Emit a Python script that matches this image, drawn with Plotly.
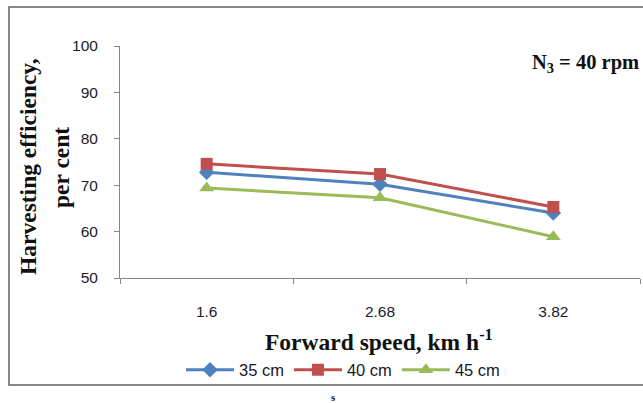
import plotly.graph_objects as go

# Forward speed categories (km/h) and harvesting efficiency (%) per cutting height
speeds = ["1.6", "2.68", "3.82"]
eff_35cm = [72.8, 70.2, 64.0]
eff_40cm = [74.6, 72.4, 65.3]
eff_45cm = [69.4, 67.3, 58.9]

series = [
    ("35 cm", eff_35cm, "#4F81BD", "diamond", 12),
    ("40 cm", eff_40cm, "#C0504D", "square", 12),
    ("45 cm", eff_45cm, "#9BBB59", "triangle-up", 13),
]

fig = go.Figure()
for name, vals, color, symbol, msize in series:
    fig.add_trace(go.Scatter(
        x=speeds, y=vals, name=name, mode="lines+markers",
        line=dict(color=color, width=3),
        marker=dict(symbol=symbol, size=msize, color=color),
    ))

# plot area spans x 120..640 px and y 46..278 px
L, R, T, B = 120, 640, 46, 278
W, H = 643, 403


def px(xp):
    return (xp - L) / (R - L)


def py(yp):
    return (B - yp) / (B - T)


tick_font = dict(family="Liberation Sans", size=15.5, color="#1a1a2a")
serif_bold = "Liberation Serif"

fig.update_layout(
    width=W, height=H,
    margin=dict(l=L, r=W - R, t=T, b=H - B),
    paper_bgcolor="white", plot_bgcolor="white",
    showlegend=True,
    legend=dict(orientation="h", x=px(343), xanchor="center", y=py(370), yanchor="middle",
                font=dict(family="Liberation Sans", size=16.5, color="#1a1a2a"),
                itemwidth=48, tracegroupgap=0, bgcolor="rgba(0,0,0,0)"),
    xaxis=dict(type="category", range=[-0.5, 2.5], showline=True, linecolor="#868686",
               linewidth=1, ticks="outside", ticklen=5, tickcolor="#868686",
               tickson="boundaries", showgrid=False, zeroline=False,
               tickfont=tick_font, ticklabelstandoff=19, fixedrange=True),
    yaxis=dict(range=[50, 100], tickvals=[50, 60, 70, 80, 90, 100], showline=True,
               linecolor="#868686", linewidth=1, ticks="outside", ticklen=5,
               tickcolor="#868686", showgrid=False, zeroline=False,
               tickfont=tick_font, ticklabelstandoff=13, fixedrange=True),
    shapes=[dict(type="rect", xref="paper", yref="paper",
                 x0=px(9), x1=px(670), y0=py(385), y1=py(7),
                 line=dict(color="#606060", width=1.5), layer="above")],
    annotations=[
        dict(text="<b>Forward speed, km h<sup>-1</sup></b>", xref="paper", yref="paper",
             x=px(379), y=py(340), showarrow=False, xanchor="center", yanchor="middle",
             font=dict(family=serif_bold, size=23.5, color="#111111")),
        dict(text="<b>Harvesting efficiency,</b>", xref="paper", yref="paper",
             x=px(28), y=py(167), showarrow=False, textangle=-90,
             xanchor="center", yanchor="middle",
             font=dict(family=serif_bold, size=23.5, color="#111111")),
        dict(text="<b>per cent</b>", xref="paper", yref="paper",
             x=px(61), y=py(168), showarrow=False, textangle=-90,
             xanchor="center", yanchor="middle",
             font=dict(family=serif_bold, size=23.5, color="#111111")),
        dict(text="<b>N<sub>3</sub> = 40 rpm</b>", xref="paper", yref="paper",
             x=px(641), y=py(63), showarrow=False, xanchor="right", yanchor="middle",
             font=dict(family=serif_bold, size=20.5, color="#111111")),
        dict(text="<b>s</b>", xref="paper", yref="paper",
             x=px(333), y=py(397), showarrow=False, xanchor="center", yanchor="middle",
             font=dict(family=serif_bold, size=11, color="#111111")),
    ],
)

fig.write_html("out.html", config=dict(displayModeBar=False))
